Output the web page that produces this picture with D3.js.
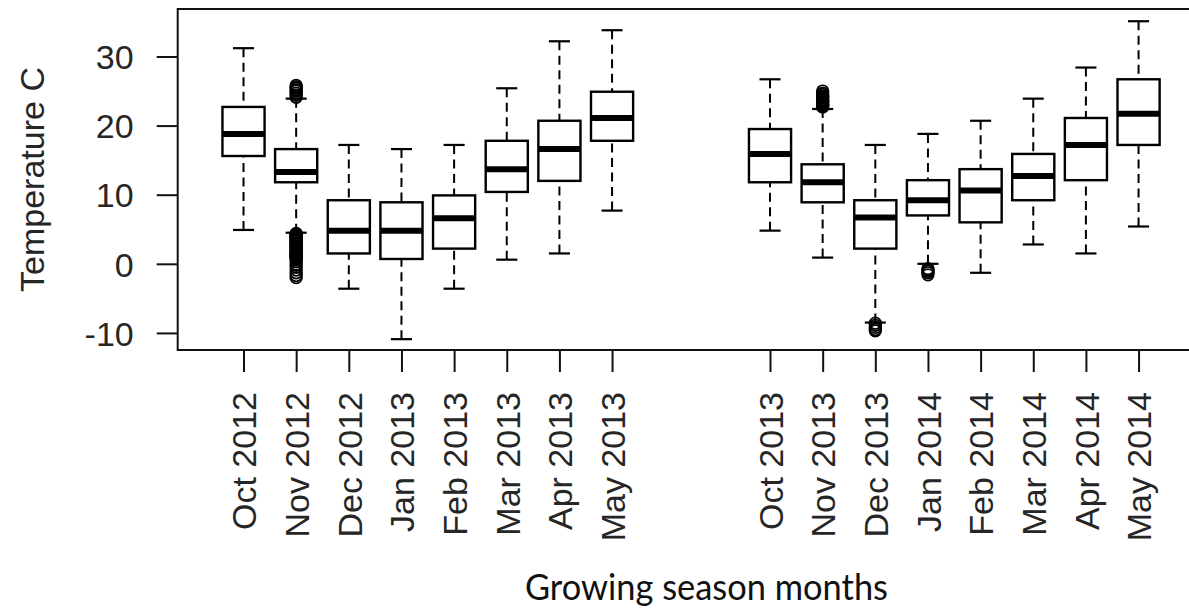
<!DOCTYPE html>
<html>
<head>
<meta charset="utf-8">
<script src="https://cdn.jsdelivr.net/npm/d3@7"></script>
<style>
  html, body { margin: 0; padding: 0; background: #fff; }
  svg { display: block; }
</style>
</head>
<body>
<svg id="chart" width="1189" height="609"></svg>
<script>
// Monthly air temperature distributions, two growing seasons
const months = [
  "Oct 2012", "Nov 2012", "Dec 2012", "Jan 2013", "Feb 2013", "Mar 2013", "Apr 2013", "May 2013",
  "Oct 2013", "Nov 2013", "Dec 2013", "Jan 2014", "Feb 2014", "Mar 2014", "Apr 2014", "May 2014"
];
// slot on the x axis (the summer months between seasons are left empty)
const slots = [1, 2, 3, 4, 5, 6, 7, 8, 11, 12, 13, 14, 15, 16, 17, 18];

const whiskerLow  = [4.9, 4.5, -3.6, -10.9, -3.6, 0.6, 1.5, 7.7, 4.8, 0.9, -8.5, 0.0, -1.3, 2.8, 1.5, 5.4];
const lowerQuart  = [15.6, 11.8, 1.5, 0.7, 2.2, 10.4, 12.0, 17.8, 11.8, 8.9, 2.2, 7.0, 6.0, 9.2, 12.1, 17.2];
const medians     = [18.8, 13.3, 4.8, 4.8, 6.6, 13.7, 16.6, 21.1, 15.9, 11.8, 6.7, 9.2, 10.6, 12.7, 17.2, 21.7];
const upperQuart  = [22.7, 16.6, 9.2, 8.9, 9.9, 17.8, 20.7, 24.9, 19.5, 14.4, 9.2, 12.1, 13.7, 15.9, 21.1, 26.7];
const whiskerHigh = [31.2, 23.9, 17.2, 16.6, 17.2, 25.4, 32.2, 33.8, 26.7, 22.4, 17.2, 18.8, 20.7, 23.9, 28.4, 35.1];

const outliers = [
  [],
  [24.1, 24.4, 24.7, 25.0, 25.2, 25.4, 25.6, 25.8,
   4.4, 4.3, 4.2, 4.1, 4.0, 3.9, 3.8, 3.7, 3.6, 3.5, 3.4, 3.3, 3.2, 3.0, 2.9, 2.8, 2.7, 2.6,
   2.5, 2.4, 2.3, 2.2, 2.1, 1.9, 1.8, 1.7, 1.6, 1.5, 1.4, 1.3, 1.2, 1.1, 1.0, 0.9, 0.8, 0.6,
   0.3, -0.1, -0.5, -0.9, -1.3, -1.7, -2.0],
  [], [], [], [], [], [],
  [],
  [22.7, 22.8, 22.9, 23.0, 23.1, 23.2, 23.4, 23.5, 23.6, 23.7, 23.8, 24.0, 24.1, 24.2, 24.3, 24.5, 24.7, 25.0],
  [-8.6, -8.9, -9.2, -9.5, -9.7],
  [-0.7, -0.9, -1.1, -1.3, -1.6],
  [], [], [], []
];

const yTicks = [-10, 0, 10, 20, 30];
const yTitle = "Temperature C";
const xTitle = "Growing season months";

const svg = d3.select("#chart");
const frame = { left: 177.7, top: 9, bottom: 350 };

const x = d3.scaleLinear().domain([-0.25, 19.25]).range([frame.left, frame.left + 19.5 * 52.65]);
const y = d3.scaleLinear().domain([-12.47, 36.87]).range([frame.bottom, frame.top]);

const textColor = "#262626";
const axisFont = "'Liberation Sans', Arial, sans-serif";

const boxes = months.map((m, i) => ({
  label: m, slot: slots[i],
  lo: whiskerLow[i], q1: lowerQuart[i], med: medians[i], q3: upperQuart[i], hi: whiskerHigh[i],
  out: outliers[i]
}));

const halfBox = x(0.4) - x(0);
const halfStaple = x(0.2) - x(0);

const g = svg.append("g");

// whiskers: dashed, drawn from the extreme toward the box
const wh = g.selectAll("g.box").data(boxes).join("g").attr("class", "box");
wh.append("line")
  .attr("x1", d => x(d.slot)).attr("x2", d => x(d.slot))
  .attr("y1", d => y(d.hi)).attr("y2", d => y(d.q3))
  .attr("stroke", "#000").attr("stroke-width", 2).attr("stroke-dasharray", "9,5.5");
wh.append("line")
  .attr("x1", d => x(d.slot)).attr("x2", d => x(d.slot))
  .attr("y1", d => y(d.lo)).attr("y2", d => y(d.q1))
  .attr("stroke", "#000").attr("stroke-width", 2).attr("stroke-dasharray", "9,5.5");
// staples
wh.append("line")
  .attr("x1", d => x(d.slot) - halfStaple).attr("x2", d => x(d.slot) + halfStaple)
  .attr("y1", d => y(d.hi)).attr("y2", d => y(d.hi))
  .attr("stroke", "#000").attr("stroke-width", 2.2);
wh.append("line")
  .attr("x1", d => x(d.slot) - halfStaple).attr("x2", d => x(d.slot) + halfStaple)
  .attr("y1", d => y(d.lo)).attr("y2", d => y(d.lo))
  .attr("stroke", "#000").attr("stroke-width", 2.2);
// interquartile boxes
wh.append("rect")
  .attr("x", d => x(d.slot) - halfBox)
  .attr("width", 2 * halfBox)
  .attr("y", d => y(d.q3))
  .attr("height", d => y(d.q1) - y(d.q3))
  .attr("fill", "#fff").attr("stroke", "#000").attr("stroke-width", 2.4);
// medians
wh.append("line")
  .attr("x1", d => x(d.slot) - halfBox).attr("x2", d => x(d.slot) + halfBox)
  .attr("y1", d => y(d.med)).attr("y2", d => y(d.med))
  .attr("stroke", "#000").attr("stroke-width", 6);
// outliers
wh.selectAll("circle").data(d => d.out.map(v => ({ slot: d.slot, v })))
  .join("circle")
  .attr("cx", d => x(d.slot)).attr("cy", d => y(d.v))
  .attr("r", 5.8)
  .attr("fill", "none").attr("stroke", "#000").attr("stroke-width", 1.7);

// plot frame
svg.append("rect")
  .attr("x", frame.left).attr("y", frame.top)
  .attr("width", x.range()[1] - frame.left).attr("height", frame.bottom - frame.top)
  .attr("fill", "none").attr("stroke", "#111").attr("stroke-width", 2);

// y axis
const yAxis = svg.append("g")
  .attr("transform", `translate(${frame.left},0)`)
  .call(d3.axisLeft(y).tickValues(yTicks).tickFormat(d => String(d)).tickSize(21).tickPadding(23));
yAxis.select(".domain").remove();
yAxis.selectAll(".tick line").attr("stroke", "#111").attr("stroke-width", 2);
yAxis.selectAll(".tick text")
  .attr("font-family", axisFont).attr("font-size", 34).attr("fill", textColor)
  .attr("dy", "0.36em");

// x axis with rotated month labels
const xAxis = svg.append("g")
  .attr("transform", `translate(0,${frame.bottom})`)
  .call(d3.axisBottom(x).tickValues(slots).tickFormat((d, i) => months[i]).tickSize(22));
xAxis.select(".domain").remove();
xAxis.selectAll(".tick line").attr("stroke", "#111").attr("stroke-width", 2);
xAxis.selectAll(".tick text")
  .attr("font-family", axisFont).attr("font-size", 34).attr("fill", textColor)
  .attr("text-anchor", "end")
  .attr("transform", "translate(0,42) rotate(-90)")
  .attr("x", 0).attr("y", 0).attr("dy", "0.36em");

// y title
svg.append("text")
  .attr("transform", `translate(43.5,${(frame.top + frame.bottom) / 2}) rotate(-90)`)
  .attr("text-anchor", "middle")
  .attr("font-family", axisFont).attr("font-size", 34).attr("fill", textColor)
  .text(yTitle);

// x title
const xt = svg.append("text")
  .attr("x", 706.5).attr("y", 600)
  .attr("text-anchor", "middle")
  .attr("font-family", "Lato, 'Open Sans', sans-serif").attr("font-size", 37).attr("fill", "#111")
  .text(xTitle);
xt.attr("textLength", 363).attr("lengthAdjust", "spacingAndGlyphs");
</script>
</body>
</html>
